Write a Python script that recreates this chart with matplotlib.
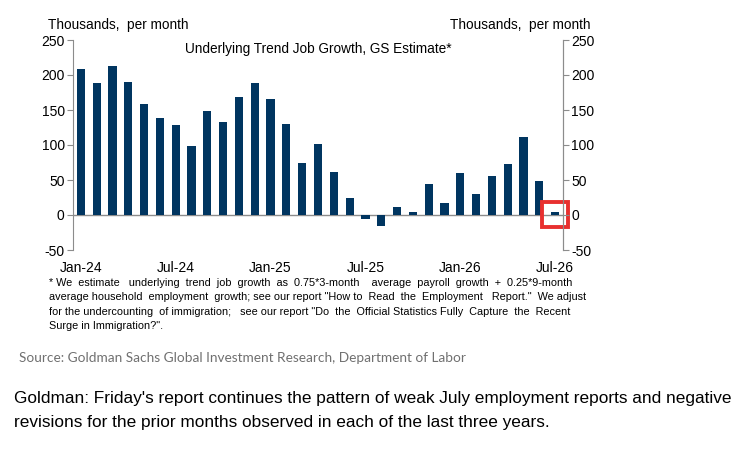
import matplotlib
matplotlib.use("Agg")
import matplotlib.pyplot as plt
from matplotlib.patches import Rectangle
import numpy as np

months = ["Jan-24", "Feb-24", "Mar-24", "Apr-24", "May-24", "Jun-24", "Jul-24", "Aug-24",
          "Sep-24", "Oct-24", "Nov-24", "Dec-24", "Jan-25", "Feb-25", "Mar-25", "Apr-25",
          "May-25", "Jun-25", "Jul-25", "Aug-25", "Sep-25", "Oct-25", "Nov-25", "Dec-25",
          "Jan-26", "Feb-26", "Mar-26", "Apr-26", "May-26", "Jun-26", "Jul-26"]
trend_growth = [208, 188, 213, 190, 159, 139, 129, 98, 149, 133, 168, 188, 165, 130, 75, 102,
                61, 24, -6, -15, 12, 4, 44, 17, 60, 30, 56, 73, 112, 49, 4]
tick_labels = ["Jan-24", "Jul-24", "Jan-25", "Jul-25", "Jan-26", "Jul-26"]
y_ticks = [-50, 0, 50, 100, 150, 200, 250]

plt.rcParams['font.family'] = ['Liberation Sans', 'DejaVu Sans']
plt.rcParams['axes.unicode_minus'] = False

fig = plt.figure(figsize=(7.43, 4.5), dpi=100)
ax = fig.add_axes([73/743, 1-250/450, (563-73)/743, 210/450])

x = np.arange(len(months))
ax.bar(x, trend_growth, width=0.52, color="#003560", zorder=3)
ax.axhline(0, color="#8c8c8c", lw=1.0, zorder=2)
ax.set_xlim(-0.5, len(months) - 0.5)
ax.set_ylim(-50, 250)
ax.set_yticks(y_ticks)
ax.set_xticks([months.index(t) for t in tick_labels])
ax.set_xticklabels(tick_labels)
ax.tick_params(axis="x", length=0, pad=8, labelsize=10)
ax.tick_params(axis="y", direction="out", length=4, color="#8c8c8c", labelsize=10, pad=2)
for s in ["top", "bottom"]:
    ax.spines[s].set_visible(False)
for s in ["left", "right"]:
    ax.spines[s].set_color("#8c8c8c")

ax2 = ax.twinx()
ax2.set_ylim(-50, 250)
ax2.set_yticks(y_ticks)
ax2.tick_params(axis="y", direction="out", length=4, color="#8c8c8c", labelsize=10, pad=2)
for s in ["top", "bottom", "left"]:
    ax2.spines[s].set_visible(False)
ax2.spines["right"].set_color("#8c8c8c")

ax.text(0.5, 0.99, "Underlying Trend Job Growth, GS Estimate*", transform=ax.transAxes,
        ha="center", va="top", fontsize=9.8)
fig.text(48/743, 1-25/450, "Thousands,  per month", ha="left", va="center", fontsize=9.8)
fig.text(590/743, 1-25/450, "Thousands,  per month", ha="right", va="center", fontsize=9.8)

ax.add_patch(Rectangle((29.18, -17), 1.65, 35.6, fill=False, edgecolor="#e8302f",
                       lw=2.8, clip_on=False, zorder=5))

foot = ("* We  estimate   underlying  trend  job  growth  as  0.75*3-month    average  payroll  growth  +  0.25*9-month\n"
        "average household  employment  growth; see our report \"How to  Read  the  Employment   Report.\"  We adjust\n"
        "for the undercounting  of immigration;   see our report \"Do  the  Official Statistics Fully  Capture  the  Recent\n"
        "Surge in Immigration?\".")
fig.text(49/743, 1-278/450, foot, ha="left", va="top", fontsize=7.8,
         family=["Liberation Sans Narrow", "Liberation Sans"], linespacing=1.55)

fig.text(19/743, 1-358/450, "Source: Goldman Sachs Global Investment Research, Department of Labor",
         ha="left", va="center", fontsize=9.8, color="#707070", family=["Lato", "DejaVu Sans"])

fig.text(14/743, 1-399/450,
         "Goldman: Friday's report continues the pattern of weak July employment reports and negative",
         ha="left", va="center", fontsize=12.4)
fig.text(14/743, 1-423/450,
         "revisions for the prior months observed in each of the last three years.",
         ha="left", va="center", fontsize=12.4)

fig.savefig("out.png", dpi=100)
